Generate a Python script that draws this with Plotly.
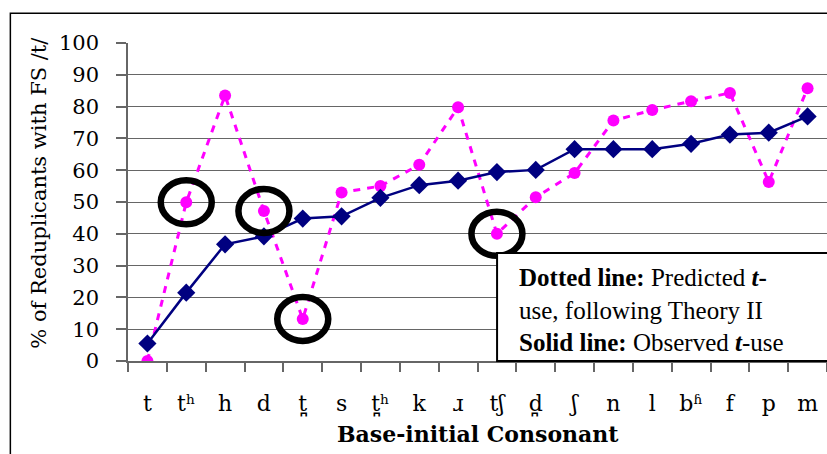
import plotly.graph_objects as go

categories = ["t", "t\u02b0", "h", "d", "t\u032a", "s", "t\u032a\u02b0", "k", "\u0279",
              "t\u0283", "d\u032a", "\u0283", "n", "l", "b\u02b1", "f", "p", "m"]
observed = [5.5, 21.5, 36.7, 39.2, 44.8, 45.5, 51.3, 55.3, 56.7,
            59.4, 60.1, 66.6, 66.6, 66.6, 68.3, 71.2, 71.8, 76.9]
predicted = [0, 49.9, 83.5, 47.2, 13.2, 53.0, 55.0, 61.7, 79.8,
             40.0, 51.5, 59.1, 75.6, 78.9, 81.7, 84.3, 56.3, 85.8]
circled = ["t\u02b0", "d", "t\u032a", "t\u0283"]
y_ticks = list(range(0, 101, 10))

fig = go.Figure()
fig.add_trace(go.Scatter(
    x=categories, y=predicted, mode="lines+markers",
    line=dict(color="#FF00FF", width=3, dash="7px,7px"),
    marker=dict(symbol="circle", size=12, color="#FF00FF"),
    showlegend=False))
fig.add_trace(go.Scatter(
    x=categories, y=observed, mode="lines+markers",
    line=dict(color="#000080", width=2.5),
    marker=dict(symbol="diamond", size=14, color="#000080"),
    showlegend=False))

shapes = []
# outer frame (left and top visible)
shapes.append(dict(type="rect", xref="paper", yref="paper",
                   x0=-0.1683, x1=1.05, y0=-0.5, y1=1.0932,
                   line=dict(color="black", width=1.5), fillcolor="rgba(0,0,0,0)",
                   layer="below"))
# rings around highlighted predicted points
for c in circled:
    v = predicted[categories.index(c)]
    shapes.append(dict(type="circle", xref="x", yref="y",
                       xsizemode="pixel", ysizemode="pixel",
                       xanchor=c, yanchor=v,
                       x0=-25.5, x1=25.5, y0=-22, y1=22,
                       line=dict(color="black", width=6.5)))
# text box
shapes.append(dict(type="rect", xref="paper", yref="paper",
                   x0=0.528, x1=1.05, y0=0.0, y1=0.34,
                   line=dict(color="black", width=2), fillcolor="white"))

annotations = [
    dict(xref="paper", yref="paper", x=0.557, y=0.161, xanchor="left", yanchor="middle",
         align="left", showarrow=False,
         text="<b>Dotted line:</b> Predicted <b><i>t</i>-</b><br>use, following Theory II"
              "<br><b>Solid line:</b> Observed <b><i>t</i></b>-use",
         font=dict(family="Liberation Serif", size=25, color="black")),
    dict(xref="paper", yref="paper", x=0.5, y=-0.231, xanchor="center", yanchor="middle",
         showarrow=False, text="<b>Base-initial Consonant</b>",
         font=dict(family="DejaVu Serif", size=22, color="black")),
    dict(xref="paper", yref="paper", x=-0.127, y=0.53, xanchor="center", yanchor="middle",
         showarrow=False, textangle=-90, text="% of Reduplicants with FS /t/",
         font=dict(family="DejaVu Serif", size=21, color="black")),
]

fig.update_layout(
    width=827, height=454,
    margin=dict(l=128, r=0, t=43, b=93, pad=0),
    paper_bgcolor="white", plot_bgcolor="white",
    shapes=shapes, annotations=annotations,
    xaxis=dict(type="category", tickson="boundaries", ticks="outside", ticklen=9,
               tickcolor="#666", tickwidth=1.5, showgrid=False, showline=True,
               linecolor="#666", linewidth=1.5, range=[-0.5, 17.5],
               tickfont=dict(family="DejaVu Serif", size=22, color="black"),
               ticklabelstandoff=22, automargin=False, zeroline=False),
    yaxis=dict(range=[0, 100], tickvals=y_ticks, ticks="outside", ticklen=10,
               tickcolor="#666", tickwidth=1.5, showgrid=True, gridcolor="#666",
               gridwidth=1.2, showline=True, linecolor="#666", linewidth=1.5,
               tickfont=dict(family="DejaVu Serif", size=21, color="black"),
               ticklabelstandoff=13, automargin=False, zeroline=False),
)

fig.write_html("out.html", config={"displayModeBar": False},
               post_script="document.body.style.margin='0';document.body.style.overflow='hidden';")
